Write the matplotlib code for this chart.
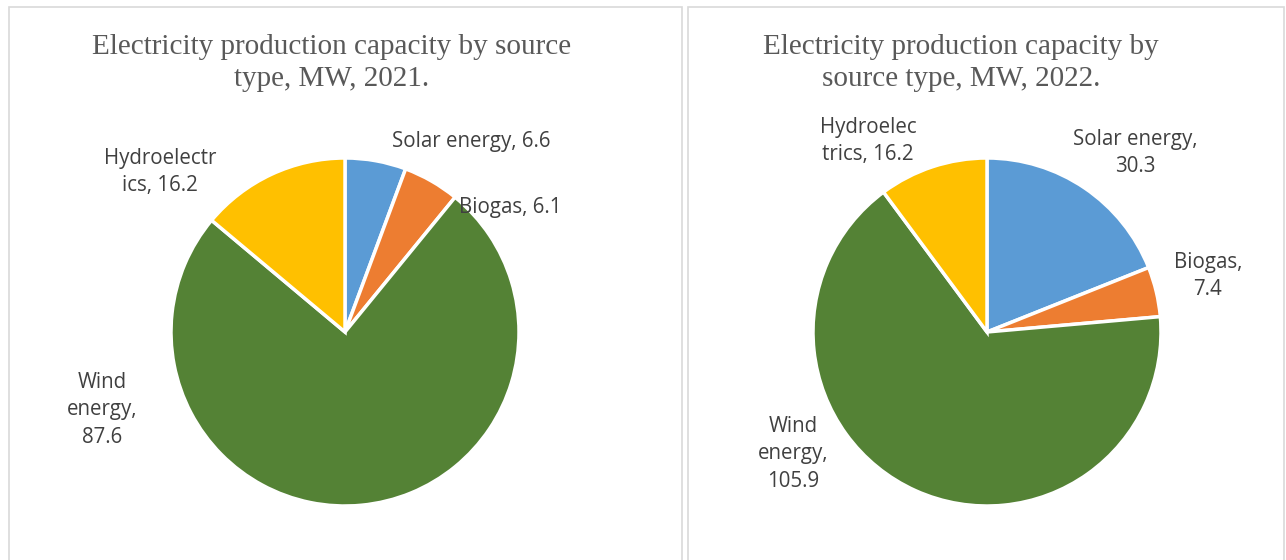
import matplotlib.pyplot as plt
from matplotlib.patches import Rectangle

# ---- data ----
categorias = ["Solar energy", "Biogas", "Wind energy", "Hydroelectrics"]
valores_2021 = [6.6, 6.1, 87.6, 16.2]
valores_2022 = [30.3, 7.4, 105.9, 16.2]
etiquetas_2021 = ["Solar energy, 6.6", "Biogas, 6.1", "Wind\nenergy,\n87.6", "Hydroelectr\nics, 16.2"]
etiquetas_2022 = ["Solar energy,\n30.3", "Biogas,\n7.4", "Wind\nenergy,\n105.9", "Hydroelec\ntrics, 16.2"]
titulo_2021 = "Electricity production capacity by source\ntype, MW, 2021."
titulo_2022 = "Electricity production capacity by\nsource type, MW, 2022."

# ---- style ----
COLORES = ["#5B9BD5", "#ED7D31", "#548235", "#FFC000"]
W, H = 1286, 560
R = 174
SANS = ["Open Sans", "DejaVu Sans"]
SERIF = ["Liberation Serif", "DejaVu Serif"]
TXT = "#404040"
TIT = "#595959"

fig = plt.figure(figsize=(W / 100, H / 100), dpi=100)

# panel frames (pixel coords from top-left)
for x0, x1 in [(9, 682), (688, 1284)]:
    fig.patches.append(Rectangle((x0 / W, -0.05), (x1 - x0) / W, (H - 7) / H + 0.05,
                                 transform=fig.transFigure, fill=False,
                                 ec="#d9d9d9", lw=1.2))


def panel(cx, cy, valores, etiquetas, pos_etq, titulo, tit_xy):
    ax = fig.add_axes([(cx - R) / W, (H - cy - R) / H, 2 * R / W, 2 * R / H])
    ax.pie(valores, colors=COLORES, startangle=90, counterclock=False,
           wedgeprops=dict(edgecolor="white", linewidth=2.5))
    ax.set_xlim(-1, 1); ax.set_ylim(-1, 1); ax.set_aspect("equal"); ax.axis("off")
    for txt, (px, py) in zip(etiquetas, pos_etq):
        ax.text((px - cx) / R, (cy - py) / R, txt, ha="center", va="center",
                fontsize=14.8, family=SANS, color=TXT, linespacing=1.4)
    fig.text(tit_xy[0] / W, 1 - tit_xy[1] / H, titulo, ha="center", va="center",
             fontsize=21, family=SERIF, color=TIT, linespacing=1.32)


panel(345, 332, valores_2021, etiquetas_2021,
      [(471, 142), (510, 207), (102, 410), (160, 172)],
      titulo_2021, (332, 63))
panel(987, 332, valores_2022, etiquetas_2022,
      [(1135, 153), (1208, 276), (793, 454), (868, 141)],
      titulo_2022, (961, 63))

plt.savefig("out.png", dpi=100)
